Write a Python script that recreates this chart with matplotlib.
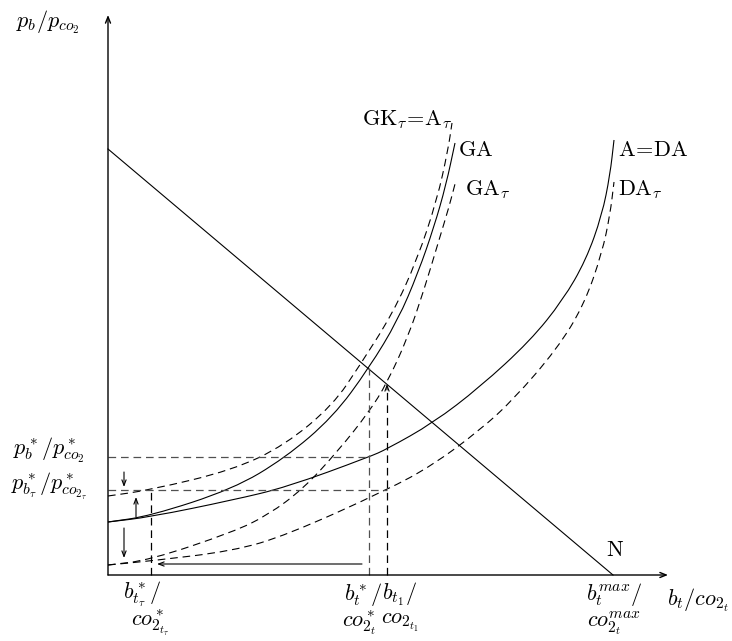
import matplotlib
matplotlib.use("Agg")
import matplotlib.pyplot as plt
from matplotlib.path import Path
from matplotlib.patches import PathPatch

plt.rcParams['mathtext.fontset'] = 'cm'
plt.rcParams['font.family'] = ['DejaVu Serif']
plt.rcParams['lines.scale_dashes'] = False

# ---- data (chart units, origin at the axes corner) ----
N_x = [0, 505]
N_y = [426, 0]

GA_x = [0, 42, 125, 177, 225, 261, 290, 310, 326, 338, 347]
GA_y = [53, 59, 86, 117, 158, 207, 255, 302, 348, 390, 432]

ADA_x = [0, 42, 125, 179, 261, 279, 325, 372, 422, 455, 478, 494, 502, 506]
ADA_y = [53, 58, 75, 88, 118, 126, 152, 188, 234, 275, 315, 360, 400, 435]

GK_x = [0, 42, 125, 177, 225, 252, 285, 309, 329, 340, 344]
GK_y = [79, 85, 105, 130, 170, 210, 262, 315, 375, 425, 452]

GAt_x = [0, 42, 125, 160, 195, 230, 261, 279, 300, 316, 331, 341, 347]
GAt_y = [10, 15, 43, 60, 86, 124, 163, 192, 238, 285, 335, 368, 391]

DAt_x = [0, 42, 125, 179, 279, 325, 372, 405, 449, 476, 494, 502, 506]
DAt_y = [10, 14, 24, 40, 85, 110, 145, 175, 226, 270, 322, 360, 393]

# equilibrium levels
p_star = 118      # p*_b / p*_co2
p_tau = 85        # p*_btau / p*_co2tau
b_tau = 43        # b*_ttau
b_star = 261      # b*_t
b_one = 279       # b_t1
b_star_top = 207  # GA meets N
b_one_top = 191   # N at b_t1
p_low = 11

fig = plt.figure(figsize=(7.32, 6.41), dpi=100)
ax = fig.add_axes([0, 0, 1, 1])
ax.set_xlim(-108, 624)
ax.set_ylim(-66, 575)
ax.axis('off')

blk = 'black'
gry = '#505050'
dash = (5.5, 3.5)


def smooth_curve(xs, ys, dashed=False, lw=0.8, color=blk):
    pts = list(zip(xs, ys))
    verts = [pts[0]]
    codes = [Path.MOVETO]
    mid0 = ((pts[0][0] + pts[1][0]) / 2, (pts[0][1] + pts[1][1]) / 2)
    verts.append(mid0)
    codes.append(Path.LINETO)
    for i in range(1, len(pts) - 1):
        m = ((pts[i][0] + pts[i + 1][0]) / 2, (pts[i][1] + pts[i + 1][1]) / 2)
        verts += [pts[i], m]
        codes += [Path.CURVE3, Path.CURVE3]
    verts.append(pts[-1])
    codes.append(Path.LINETO)
    patch = PathPatch(Path(verts, codes), facecolor='none', edgecolor=color, lw=lw,
                      linestyle=(0, dash) if dashed else '-', capstyle='butt')
    ax.add_patch(patch)


# axes with arrows
ax.annotate('', xy=(0, 560), xytext=(0, 0),
            arrowprops=dict(arrowstyle='->,head_length=0.45,head_width=0.18', color=blk, lw=1.0, shrinkA=0, shrinkB=0))
ax.annotate('', xy=(560, 0), xytext=(0, 0),
            arrowprops=dict(arrowstyle='->,head_length=0.45,head_width=0.18', color=blk, lw=1.0, shrinkA=0, shrinkB=0))

# curves
ax.plot(N_x, N_y, color=blk, lw=0.8)
smooth_curve(GA_x, GA_y)
smooth_curve(ADA_x, ADA_y)
smooth_curve(GK_x, GK_y, dashed=True)
smooth_curve(GAt_x, GAt_y, dashed=True)
smooth_curve(DAt_x, DAt_y, dashed=True)

# guide lines
ax.plot([0, b_star], [p_star, p_star], color=gry, lw=0.9, dashes=dash)
ax.plot([0, b_one], [p_tau, p_tau], color=gry, lw=0.9, dashes=dash)
ax.plot([b_star, b_star], [0, b_star_top], color=gry, lw=0.9, dashes=dash)
ax.plot([b_tau, b_tau], [0, p_tau], color=blk, lw=0.9, dashes=dash)
ax.plot([b_one, b_one], [0, b_one_top - 4], color=blk, lw=0.9, dashes=dash)

aprops = dict(arrowstyle='->,head_length=0.4,head_width=0.15', color=blk, lw=0.8, shrinkA=0, shrinkB=0)
ax.annotate('', xy=(b_one, b_one_top), xytext=(b_one, b_one_top - 6), arrowprops=aprops)
ax.annotate('', xy=(16, 88), xytext=(16, 103), arrowprops=aprops)
ax.annotate('', xy=(28, 78), xytext=(28, 58), arrowprops=aprops)
ax.annotate('', xy=(16, 17), xytext=(16, 47), arrowprops=aprops)
ax.annotate('', xy=(49, p_low), xytext=(254, p_low), arrowprops=aprops)

fs = 16
# axis labels
ax.text(-60, 553, r'$p_b/p_{co_2}$', fontsize=fs, ha='center', va='center')
ax.text(-59, 125, r'$p_b^*/p_{co_2}^*$', fontsize=fs, ha='center', va='center')
ax.text(-59, 89, r'$p_{b_\tau}^*/p_{co_{2_\tau}}^*$', fontsize=fs, ha='center', va='center')

ax.text(590, -25, r'$b_t/co_{2_t}$', fontsize=fs, ha='center', va='center')

ax.text(34, -19, r'$b_{t_\tau}^*/$', fontsize=fs, ha='center', va='center')
ax.text(42, -48, r'$co_{2_{t_\tau}}^*$', fontsize=fs, ha='center', va='center')
ax.text(255, -19, r'$b_t^*/$', fontsize=fs, ha='center', va='center')
ax.text(251, -48, r'$co_{2_t}^*$', fontsize=fs, ha='center', va='center')
ax.text(291, -19, r'$b_{t_1}/$', fontsize=fs, ha='center', va='center')
ax.text(292, -48, r'$co_{2_{t_1}}$', fontsize=fs, ha='center', va='center')
ax.text(506, -19, r'$b_t^{max}/$', fontsize=fs, ha='center', va='center')
ax.text(506, -48, r'$co_{2_t}^{max}$', fontsize=fs, ha='center', va='center')

# curve labels
ax.text(507, 25, r'$\mathrm{N}$', fontsize=fs, ha='center', va='center')
ax.text(299, 455, r'$\mathrm{GK}_\tau\!=\!\mathrm{A}_\tau$', fontsize=fs, ha='center', va='center')
ax.text(350, 425, r'$\mathrm{GA}$', fontsize=fs, ha='left', va='center')
ax.text(357, 385, r'$\mathrm{GA}_\tau$', fontsize=fs, ha='left', va='center')
ax.text(510, 425, r'$\mathrm{A\!=\!DA}$', fontsize=fs, ha='left', va='center')
ax.text(510, 385, r'$\mathrm{DA}_\tau$', fontsize=fs, ha='left', va='center')

fig.savefig('out.png', dpi=100)
